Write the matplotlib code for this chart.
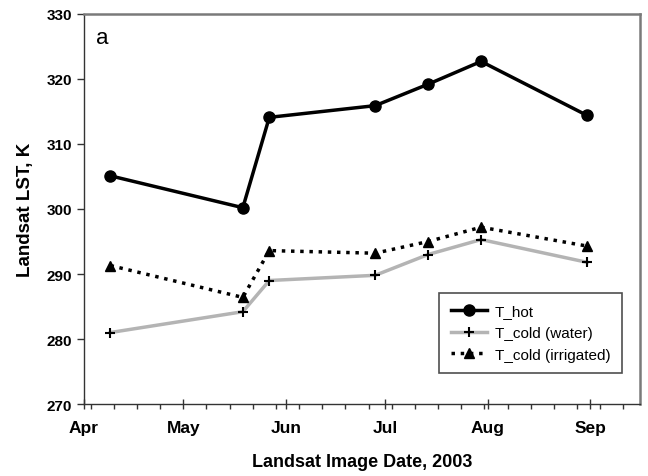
import numpy as np
import matplotlib
matplotlib.use("Agg")
import matplotlib.pyplot as plt
import matplotlib.dates as mdates
from datetime import datetime

plt.rcParams['font.family'] = ['Liberation Sans', 'DejaVu Sans']

# Landsat image dates (2003) and LST values, K
dates = ["2003-04-09", "2003-05-19", "2003-05-27", "2003-06-28",
         "2003-07-14", "2003-07-30", "2003-08-31"]
t_hot = [305.1, 300.2, 314.1, 315.9, 319.2, 322.7, 314.4]
t_cold_water = [281.0, 284.2, 289.0, 289.8, 293.0, 295.3, 291.8]
t_cold_irrig = [291.3, 286.4, 293.6, 293.2, 295.0, 297.2, 294.3]

x = [datetime.strptime(d, "%Y-%m-%d") for d in dates]

fig = plt.figure(figsize=(6.48, 4.77), dpi=100)
ax = fig.add_axes([0.1296, 0.1509, 0.858, 0.8177])

ax.plot(x, t_hot, '-', color='black', lw=2.5, marker='o', ms=8, label='T_hot', zorder=3)
ax.plot(x, t_cold_water, '-', color='#b4b4b4', lw=2.5, marker='+', ms=7,
        mec='black', mew=1.5, label='T_cold (water)', zorder=2)
ax.plot(x, t_cold_irrig, ':', color='black', lw=2.5, marker='^', ms=7,
        label='T_cold (irrigated)', zorder=2)

ax.set_xlim(datetime(2003, 4, 1), datetime(2003, 9, 16))
ax.set_ylim(270, 330)
ax.set_yticks(np.arange(270, 331, 10))

ax.xaxis.set_major_locator(mdates.MonthLocator())
ax.xaxis.set_major_formatter(mdates.DateFormatter('%b'))
ax.xaxis.set_minor_locator(mdates.RRuleLocator(
    mdates.rrulewrapper(mdates.WEEKLY, dtstart=datetime(2003, 4, 1))))

ax.tick_params(axis='x', which='major', direction='inout', length=7, width=1,
               labelsize=12.5, pad=8, colors='#333333', labelcolor='black')
ax.tick_params(axis='x', which='minor', direction='out', length=3.5, width=1, colors='#333333')
ax.tick_params(axis='y', direction='out', length=5, width=1, labelsize=11,
               colors='#333333', labelcolor='black')
for lab in ax.get_xticklabels() + ax.get_yticklabels():
    lab.set_fontweight('bold')

for s in ['left', 'bottom']:
    ax.spines[s].set_color('#333333')
    ax.spines[s].set_linewidth(1)
for s in ['top', 'right']:
    ax.spines[s].set_color('#7a7a7a')
    ax.spines[s].set_linewidth(1.8)

ax.set_ylabel('Landsat LST, K', fontsize=13.5, fontweight='bold', labelpad=9)
ax.set_xlabel('Landsat Image Date, 2003', fontsize=13, fontweight='bold', labelpad=13)

ax.text(0.022, 0.94, 'a', transform=ax.transAxes, fontsize=16, va='center', ha='left')

leg = ax.legend(loc='lower right', bbox_to_anchor=(0.9676, 0.0795), borderaxespad=0,
                fontsize=11, frameon=True, fancybox=False, handlelength=2.4,
                borderpad=0.75, labelspacing=0.5, handletextpad=0.5)
leg.get_frame().set_edgecolor('#222222')
leg.get_frame().set_linewidth(1.2)

fig.savefig('out.png', dpi=100)
